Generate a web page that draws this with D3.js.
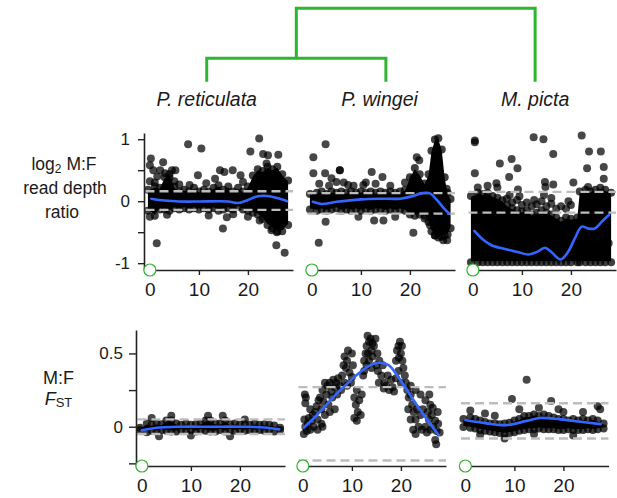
<!DOCTYPE html>
<html><head><meta charset="utf-8">
<script src="https://cdn.jsdelivr.net/npm/d3@7"></script>
<style>
body{margin:0;background:#fff}
svg{display:block}
text{font-family:"Liberation Sans",Arial,Helvetica,sans-serif;fill:#1a1a1a}
</style>
</head><body>
<svg id="c" width="617" height="498"></svg>
<script>
// ---------------- data ----------------
const species = ["P. reticulata", "P. wingei", "M. picta"];
const treeLeafPos = [11.6, 15.1, 12.7];   // leaf position, in each panel's x units
const titlePos = [11.6, 13.8, 12.7];
const treeHeights = [0.32, 1.0];          // merge heights: (ret,win), then (+picta)

const xTicks = [0, 10, 20];
const rdTicks = [-1, -0.5, 0, 0.5, 1];
const rdTickLabels = ["-1", "", "0", "", "1"];
const fstTicks = [-0.25, 0, 0.25, 0.5];
const fstTickLabels = ["", "0", "", "0.5"];

// dashed threshold lines [upper, lower]
const rdThresh = [[0.16, -0.14], [0.13, -0.2], [0.15, -0.185]];
const fstThresh = [[0.05, -0.05], [0.27, -0.23], [0.16, -0.08]];

// dense point cores (outer edges): [x, low, high]
const rdBandRetic = [[-0.4,-0.22,0.25],[1,-0.3,0.3],[2,-0.2,0.28],[3,-0.2,0.45],[4,-0.22,0.5],[5,-0.18,0.3],[6,-0.2,0.22],[7,-0.18,0.25],[8,-0.2,0.22],[9,-0.18,0.28],[10,-0.2,0.22],[11,-0.18,0.25],[12,-0.2,0.22],[13,-0.18,0.28],[14,-0.22,0.32],[15,-0.2,0.25],[16,-0.18,0.3],[17,-0.2,0.22],[18,-0.16,0.28],[19,-0.2,0.22],[20,-0.22,0.3],[21,-0.25,0.48],[22,-0.28,0.58],[23,-0.35,0.55],[24,-0.45,0.62],[25,-0.5,0.58],[26,-0.55,0.62],[27,-0.55,0.5],[28.2,-0.45,0.4]];
const rdBandWingei = [[-0.4,-0.2,0.18],[1,-0.22,0.2],[2,-0.2,0.22],[3,-0.22,0.18],[4,-0.2,0.22],[5,-0.18,0.2],[6,-0.22,0.22],[7,-0.2,0.2],[8,-0.22,0.22],[9,-0.2,0.2],[10,-0.22,0.22],[11,-0.2,0.2],[12,-0.22,0.22],[13,-0.2,0.2],[14,-0.2,0.22],[15,-0.22,0.2],[16,-0.2,0.22],[17,-0.22,0.2],[18,-0.2,0.22],[19,-0.22,0.25],[20,-0.28,0.45],[21,-0.3,0.6],[22,-0.28,0.5],[23,-0.3,0.35],[23.8,-0.4,0.5],[24.4,-0.55,0.88],[25.1,-0.62,1.06],[25.8,-0.65,1.08],[26.5,-0.64,0.9],[27.1,-0.62,0.45],[27.7,-0.6,0.2],[28.3,-0.5,0.1]];
const rdBandPicta = [[-0.4,-1.05,0.15],[1,-1.05,0.2],[2,-1.05,0.18],[3,-1.05,0.2],[4,-1.05,0.15],[5,-1.05,0.12],[6,-1.05,0.08],[7,-1.05,0.0],[8,-1.05,-0.05],[9,-1.05,-0.08],[10,-1.05,-0.1],[11,-1.05,-0.08],[12,-1.05,-0.15],[13,-1.05,-0.12],[14,-1.05,-0.08],[15,-1.05,-0.12],[16,-1.05,-0.15],[17,-1.05,-0.2],[18,-1.05,-0.25],[19,-1.05,-0.2],[20,-1.05,-0.22],[21.3,-1.05,-0.2],[21.8,-1.05,0.22],[23,-1.05,0.25],[24,-1.05,0.22],[25,-1.05,0.25],[26,-1.05,0.28],[27,-1.05,0.25],[28.2,-1.05,0.2]];
const fstBandRetic = [[-0.4,-0.05,0.02],[1,-0.065,0.05],[2,-0.055,0.04],[3,-0.06,0.05],[4,-0.05,0.045],[5,-0.055,0.07],[6,-0.06,0.07],[7,-0.06,0.05],[8,-0.05,0.04],[9,-0.055,0.05],[10,-0.05,0.04],[11,-0.06,0.045],[12,-0.05,0.05],[13,-0.055,0.07],[14,-0.06,0.07],[15,-0.06,0.05],[16,-0.05,0.05],[17,-0.06,0.07],[18,-0.05,0.045],[19,-0.055,0.05],[20,-0.05,0.04],[21,-0.055,0.045],[22,-0.05,0.04],[23,-0.055,0.05],[24,-0.05,0.04],[25,-0.055,0.045],[26,-0.05,0.04],[27,-0.06,0.035],[28.2,-0.05,0.02]];
const fstBandPicta = [[-0.4,-0.03,0.08],[1,-0.035,0.09],[2,-0.04,0.08],[3,-0.05,0.07],[4,-0.055,0.06],[5,-0.06,0.05],[6,-0.065,0.05],[7,-0.07,0.045],[8,-0.075,0.05],[9,-0.07,0.055],[10,-0.065,0.07],[11,-0.055,0.08],[12,-0.05,0.1],[13,-0.045,0.1],[14,-0.045,0.11],[15,-0.04,0.1],[16,-0.045,0.11],[17,-0.045,0.1],[18,-0.045,0.09],[19,-0.05,0.08],[20,-0.05,0.08],[21,-0.045,0.07],[22,-0.05,0.08],[23,-0.05,0.07],[24,-0.05,0.08],[25,-0.045,0.07],[26,-0.05,0.08],[27,-0.045,0.07],[28.2,-0.04,0.05]];

// individual points [x, y]
const rdPtsRetic = [[0.2,0.69],[0,0.58],[0.7,0.5],[2.7,0.63],[2.1,0.5],[3.1,0.45],[0,0.32],[0,-0.25],[1.4,-0.68],[4.5,0.5],[5.2,0.5],[7.8,0.92],[10.5,0.85],[8.1,0.26],[9.8,0.42],[11.5,0.29],[13.3,0.36],[14.3,0.5],[15.2,0.47],[16.9,0.5],[18.5,0.42],[14.9,-0.44],[15.7,-0.26],[20.5,0.8],[22.3,1.01],[23.1,0.76],[24.1,0.74],[23.8,0.61],[26.2,0.75],[22.4,-0.31],[24.8,-0.47],[25.9,-0.5],[25.8,-0.71],[27.5,-0.83],[6,0.27],[12,-0.23],[17,-0.21],[19,0.31],[20,-0.25],[1,0.3],[3.5,-0.22],[5,0.32],[1.5,0.4],[4,0.38]];
const rdPtsWingei = [[2.8,0.92],[0.3,0.71],[0.3,0.45],[2.7,0.45],[5.7,0.5],[5.7,0.5],[4,0.37],[5,0.31],[12.2,0.47],[14.4,0.39],[10.5,0.26],[7.4,0.26],[1.4,-0.67],[2.8,-0.33],[12.7,-0.31],[14.6,-0.31],[9.5,-0.25],[20.7,-0.51],[21.4,0.71],[21.9,0.66],[20.7,0.37],[23,-0.28],[24.1,-0.39],[26.8,-0.63],[27.6,-0.63],[25.1,-0.55],[6.5,0.3],[8.5,0.25],[11,0.3],[13,0.28],[16,0.25],[17,-0.25],[19,0.3],[3.5,0.25],[1.5,0.28],[27.5,0.2]];
const rdPtsPicta = [[0.4,0.98],[0.4,0.95],[0.4,0.45],[12.4,1.03],[14.4,1.0],[16.4,0.76],[22.2,1.06],[23.7,0.8],[26.1,0.8],[5.5,0.61],[7.9,0.68],[9.1,0.53],[7.4,0.39],[4.8,0.29],[9.2,0.19],[14.7,0.31],[16.4,0.27],[14.8,0.23],[20.5,0.3],[23.3,0.53],[26.7,0.55],[26.7,0.36],[23.5,0.23],[27.7,-0.68],[6.9,0.04],[8,-0.02],[9,0.02],[10,-0.06],[11,-0.02],[12,-0.08],[13,-0.05],[14,0.0],[15,-0.08],[16,-0.04],[17,-0.12],[18,-0.08],[19,-0.12],[20,-0.06],[14.5,0.1],[16,0.05],[19.5,0.0],[5,0.22],[3,0.25],[1,0.22],[7.5,0.1],[9.5,0.08],[12.5,0.02]];
const fstPtsRetic = [[2,0.06],[6,0.075],[13.5,0.075],[16.5,0.075],[21,0.05],[3.5,-0.065],[10,-0.06],[18,-0.065]];
const fstPtsWingei = [[0.2,-0.05],[0.5,0.0],[0.3,0.05],[0.8,-0.03],[1,0.02],[1.2,0.06],[1.5,-0.02],[1.8,0.04],[2,0.08],[2.2,0.0],[2.5,0.1],[0.5,0.16],[0.6,0.2],[0.4,0.22],[1.5,0.12],[2.8,0.14],[3,0.05],[3.2,0.18],[3.5,0.2],[3.8,0.12],[4,0.25],[4.2,0.17],[4.5,0.3],[4.8,0.22],[5,0.28],[5.2,0.15],[5.5,0.3],[5.8,0.24],[6,0.2],[6.2,0.32],[6.5,0.27],[6.8,0.3],[7,0.22],[7.2,0.33],[7.5,0.28],[7.8,0.25],[3.8,0.02],[4.5,0.08],[5.5,0.1],[6.5,0.12],[3,-0.02],[4,0.0],[8,0.35],[8.3,0.42],[8.5,0.48],[8.8,0.4],[9,0.45],[9.2,0.52],[9.5,0.37],[9.8,0.3],[10,0.5],[10.2,0.42],[8.5,0.3],[9,0.28],[10,0.34],[10.5,0.2],[10.8,0.15],[11,0.25],[11.2,0.1],[11.5,0.18],[11.8,0.08],[12,0.22],[10.5,0.06],[11,0.04],[12.3,0.35],[12.5,0.45],[12.8,0.5],[13,0.55],[13.2,0.62],[13.5,0.58],[13.8,0.6],[14,0.52],[14.2,0.48],[14.5,0.55],[14.8,0.6],[13,0.42],[13.5,0.45],[14,0.4],[12.5,0.38],[13.3,0.5],[14.2,0.57],[15,0.42],[15.3,0.38],[15.6,0.45],[16,0.35],[16.3,0.42],[16.6,0.3],[17,0.28],[17.3,0.35],[17.6,0.25],[18,0.32],[18.3,0.27],[18.6,0.24],[15.5,0.3],[16.5,0.26],[15.2,0.5],[19,0.45],[19.2,0.52],[19.5,0.55],[19.8,0.58],[20,0.5],[20.3,0.45],[20.5,0.4],[20.8,0.35],[19.5,0.38],[20,0.3],[21,0.3],[19,0.33],[19.6,0.47],[20.2,0.55],[21.3,0.25],[21.6,0.2],[22,0.22],[22.3,0.15],[22.6,0.1],[23,0.05],[23.3,0.12],[23.6,0.0],[24,0.08],[24.3,-0.02],[21.5,0.12],[22,0.05],[22.5,-0.02],[23,-0.05],[22,0.28],[23,0.25],[24,0.22],[25,0.18],[24.5,0.12],[25.5,0.1],[25.8,0.22],[26,0.15],[25,0.0],[25.3,-0.04],[25.7,0.05],[26,-0.02],[26.3,0.08],[26.6,0.0],[27,0.04],[27.3,-0.03],[27.6,0.02],[27.9,-0.04],[27,-0.09],[27.2,-0.12],[26.5,0.13],[27.5,0.1]];
const fstPtsPicta = [[12.5,0.32],[9.5,0.19],[17.5,0.175],[27,0.14],[27.5,0.12],[1,0.11],[4,0.09],[6,0.075],[11,0.12],[15,0.13],[20,0.1],[24,0.1],[8,-0.08],[3,-0.055],[14,-0.05],[22,-0.06],[19,0.12]];

// smooth fits [x, y]
const rdFitRetic = [[0.3,0.04],[3,0.01],[6,-0.005],[10,-0.005],[14,0.0],[16,-0.005],[18,-0.03],[20,0.02],[22,0.08],[24,0.085],[26,0.05],[28,0.0]];
const rdFitWingei = [[0.2,-0.01],[2,-0.045],[5,-0.01],[10,0.03],[14,0.04],[18,0.04],[20.5,0.08],[22.5,0.13],[24,0.13],[25.5,0.02],[27,-0.12],[28,-0.2]];
const rdFitPicta = [[0.3,-0.48],[1.8,-0.6],[3.8,-0.71],[6.5,-0.77],[9.2,-0.82],[11.3,-0.86],[13.3,-0.81],[14.7,-0.75],[16,-0.82],[17.9,-0.94],[19.4,-0.82],[20.8,-0.6],[22.2,-0.41],[23.5,-0.44],[24.9,-0.44],[26.3,-0.33],[27.8,-0.22]];
const fstFitRetic = [[0,-0.025],[3,-0.007],[8,0.0],[14,0.0],[20,0.0],[25,-0.005],[28,-0.018]];
const fstFitWingei = [[0.2,-0.006],[2.9,0.08],[5.6,0.18],[8.3,0.27],[11.1,0.357],[13.8,0.42],[15.8,0.436],[17.5,0.42],[19.9,0.318],[22.6,0.18],[25.4,0.045],[27.7,-0.056]];
const fstFitPicta = [[0,0.046],[4.3,0.023],[8.4,0.011],[12.5,0.04],[15.3,0.06],[19.4,0.05],[23.5,0.034],[27.6,0.018]];

// ---------------- drawing ----------------
const svg = d3.select("#c");
const GREEN = "#2fb52f", BLUE = "#3366ff";
const W = 149, R = 4;
const xDomain = [-1.2, 29.2];

const rows = [
  { lefts: [144, 306, 467], yDomain: [-1.11, 1.1], yRange: [270, 133],
    ticks: rdTicks, labels: rdTickLabels, thresh: rdThresh,
    bands: [rdBandRetic, rdBandWingei, rdBandPicta],
    pts: [rdPtsRetic, rdPtsWingei, rdPtsPicta],
    fits: [rdFitRetic, rdFitWingei, rdFitPicta], tickLen: 6, pad: 8 },
  { lefts: [136, 297, 459.5], yDomain: [-0.268, 0.66], yRange: [466, 330],
    ticks: fstTicks, labels: fstTickLabels, thresh: fstThresh,
    bands: [fstBandRetic, null, fstBandPicta],
    pts: [fstPtsRetic, fstPtsWingei, fstPtsPicta],
    fits: [fstFitRetic, fstFitWingei, fstFitPicta], tickLen: 7, pad: 6 }
];

const topX = [];
rows.forEach((row, ri) => {
  const y = d3.scaleLinear().domain(row.yDomain).range(row.yRange);
  row.lefts.forEach((left, ci) => {
    const x = d3.scaleLinear().domain(xDomain).range([left, left + W]);
    if (ri === 0) topX.push(x);
    const g = svg.append("g");
    // dense core: filled between edge-point centres, plus semi-transparent edge points
    const band = row.bands[ci];
    if (band) {
      g.append("path").datum(band)
        .attr("d", d3.area().x(d => x(d[0])).y0(d => y(d[1]) - R - 1).y1(d => y(d[2]) + R + 1))
        .attr("fill", "#000");
      const edges = band.flatMap(d => [[d[0], d[1], -1], [d[0], d[2], 1]]);
      g.selectAll("circle.e").data(edges).join("circle")
        .attr("class", "e")
        .attr("cx", d => x(d[0])).attr("cy", d => y(d[1]) + d[2] * R).attr("r", R)
        .attr("fill", "#000").attr("fill-opacity", 0.75);
    }
    // points
    g.selectAll("circle.p").data(row.pts[ci]).join("circle")
      .attr("class", "p")
      .attr("cx", d => x(d[0])).attr("cy", d => y(d[1])).attr("r", R)
      .attr("fill", "#000").attr("fill-opacity", 0.72);
    // threshold dashed lines
    g.selectAll("line.th").data(row.thresh[ci]).join("line")
      .attr("class", "th")
      .attr("x1", x(-0.9)).attr("x2", x(29.2))
      .attr("y1", d => y(d)).attr("y2", d => y(d))
      .attr("stroke", "#bdbdbd").attr("stroke-width", 2.4)
      .attr("stroke-dasharray", "9,5");
    // fit
    g.append("path").datum(row.fits[ci])
      .attr("d", d3.line().x(d => x(d[0])).y(d => y(d[1])).curve(d3.curveCatmullRom))
      .attr("fill", "none").attr("stroke", BLUE).attr("stroke-width", 2.6)
      .attr("stroke-linecap", "round");
    // x axis
    const xa = g.append("g").attr("transform", `translate(0,${row.yRange[0]})`)
      .call(d3.axisBottom(x).tickValues(xTicks).tickSize(5).tickSizeOuter(0).tickPadding(8));
    xa.select(".domain").attr("stroke", "#222").attr("stroke-width", 1.6);
    xa.selectAll(".tick line").attr("stroke", "#222").attr("stroke-width", 1.4);
    xa.selectAll(".tick text").attr("font-size", 19).attr("font-family", null).attr("fill", "#1a1a1a");
    // y axis on first column
    if (ci === 0) {
      const ya = g.append("g").attr("transform", `translate(${left},0)`)
        .call(d3.axisLeft(y).tickValues(row.ticks).tickSize(row.tickLen).tickSizeOuter(0).tickPadding(row.pad)
          .tickFormat((d, i) => row.labels[i]));
      ya.select(".domain").attr("stroke", "#222").attr("stroke-width", 1.6);
      ya.selectAll(".tick line").attr("stroke", "#222").attr("stroke-width", 1.4);
      ya.selectAll(".tick text").attr("font-size", 17).attr("font-family", null).attr("fill", "#1a1a1a");
    }
    // origin marker
    g.append("circle").attr("cx", x(0)).attr("cy", row.yRange[0]).attr("r", 6)
      .attr("fill", "#fff").attr("stroke", GREEN).attr("stroke-width", 1.2);
  });
});

// dendrogram
const ty = d3.scaleLinear().domain([0, 1]).range([81.7, 8.3]);
const leafX = treeLeafPos.map((p, i) => topX[i](p));
const innerX = (leafX[0] + leafX[1]) / 2;
const tree = svg.append("g").attr("fill", "none").attr("stroke", GREEN).attr("stroke-width", 3);
tree.append("path").attr("d",
  `M${leafX[0]},${ty(0)}V${ty(treeHeights[0])}H${leafX[1]}V${ty(0)}`);
tree.append("path").attr("d",
  `M${innerX},${ty(treeHeights[0])}V${ty(treeHeights[1])}H${leafX[2]}V${ty(0)}`);

// titles
species.forEach((s, i) => {
  svg.append("text").attr("x", topX[i](titlePos[i])).attr("y", 106)
    .attr("text-anchor", "middle").attr("font-size", 19.5).attr("font-style", "italic").text(s);
});

// row labels
const lab1 = svg.append("g").attr("font-size", 17.5).attr("text-anchor", "middle");
const l1 = lab1.append("text").attr("x", 64).attr("y", 169.5);
l1.append("tspan").text("log");
l1.append("tspan").attr("font-size", 12).attr("dy", 3).text("2");
l1.append("tspan").attr("dy", -3).text(" M:F");
lab1.append("text").attr("x", 65).attr("y", 194).text("read depth");
lab1.append("text").attr("x", 62).attr("y", 217.5).text("ratio");

const lab2 = svg.append("g").attr("font-size", 18).attr("text-anchor", "middle");
lab2.append("text").attr("x", 58.5).attr("y", 383.5).text("M:F");
const l2 = lab2.append("text").attr("x", 58.5).attr("y", 405);
l2.append("tspan").attr("font-style", "italic").text("F");
l2.append("tspan").attr("font-size", 13).attr("dy", 1.5).text("ST");
</script>
</body></html>
